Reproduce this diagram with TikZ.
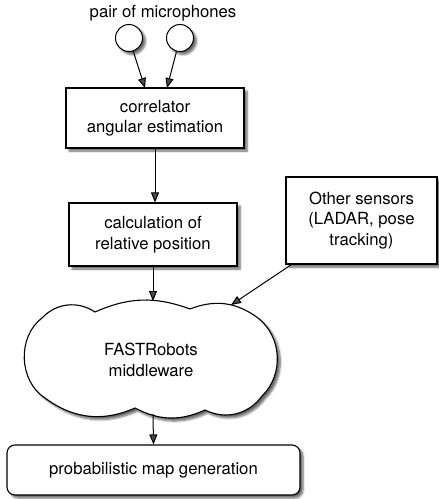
\documentclass[tikz,border=0pt]{standalone}
\usepackage{fontspec}
\setmainfont{TeX Gyre Heros}
\usetikzlibrary{arrows.meta,shadows.blur}
\begin{document}
\begin{tikzpicture}[x=1pt,y=-1pt,
  every node/.style={font=\fontsize{16.7}{20.5}\selectfont, align=center, inner sep=0pt},
  softshadow/.style={blur shadow={shadow xshift=3pt,shadow yshift=-3pt,shadow blur steps=6,shadow opacity=60}},
  procbox/.style={draw, line width=1.1pt, fill=white, softshadow, rectangle},
  mic/.style={draw, line width=1pt, fill=white, circle, minimum size=27pt, softshadow},
  link/.style={line width=1pt, -{Triangle[length=10pt,width=8pt]}},
]
\useasboundingbox (0,0) rectangle (439,499);

% sensors
\node (lbl) at (163,13) {pair of microphones};
\node[mic] (micL) at (129,38) {};
\node[mic] (micR) at (180,38) {};

% processing chain
\node[procbox, minimum width=178pt, minimum height=60pt] (corr) at (155,118) {correlator\\angular estimation};
\node[procbox, minimum width=168pt, minimum height=63pt] (calc) at (153,234.5) {calculation of\\relative position};
\node[procbox, minimum width=151pt, minimum height=87pt] (other) at (361.5,220.5) {Other sensors\\(LADAR, pose\\tracking)};

% middleware cloud, eight puffs
\path[draw, line width=1.1pt, fill=white, softshadow]
  (45,398) to[bend left=55] (42,318)
           to[bend left=40] (95,312)
           to[bend left=22] (190,309)
           to[bend left=29] (258,318)
           to[bend left=49] (262,396)
           to[bend left=40] (205,410)
           to[bend left=26] (135,408)
           to[bend left=30] cycle;
\node (mw) at (151,360) {FASTRobots\\middleware};

\node[procbox, rounded corners=8pt, minimum width=293pt, minimum height=50pt] (map) at (153.5,470) {probabilistic map generation};

% connector end points on the cloud and the box tops
\coordinate (inL) at (145,88);
\coordinate (inR) at (167,88);
\coordinate (mwtop) at (153,301);
\coordinate (mwside) at (231,305);
\coordinate (mwbot) at (153,414);

\draw[link] (micL) -- (inL);
\draw[link] (micR) -- (inR);
\draw[link] (corr.south) -- (corr.south |- calc.north);
\draw[link] (calc.south) -- (mwtop);
\draw[link] ([xshift=6pt]other.south west) -- (mwside);
\draw[link] (mwbot) -- (map.north);
\end{tikzpicture}
\end{document}
